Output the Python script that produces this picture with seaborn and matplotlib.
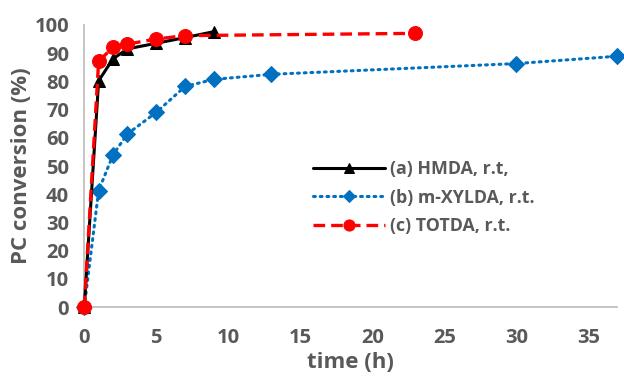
import matplotlib
matplotlib.use("Agg")
import matplotlib.pyplot as plt
import seaborn as sns
import pandas as pd

# Data
t_hmda = [0, 1, 2, 3, 5, 7, 9]
y_hmda = [0, 80.2, 88, 91.5, 93.5, 95.5, 97.6]
t_xylda = [0, 1, 2, 3, 5, 7, 9, 13, 30, 37]
y_xylda = [0, 41.3, 54, 61.4, 69, 78.2, 80.7, 82.5, 86.3, 88.9]
t_totda = [0, 1, 2, 3, 5, 7, 23]
y_totda = [0, 87.2, 92, 93.2, 95, 96.2, 97]
labels = ["(a) HMDA, r.t,", "(b) m-XYLDA, r.t.", "(c) TOTDA, r.t."]

sns.set_style("white")
plt.rcParams['font.family'] = ['Open Sans', 'DejaVu Sans']
grey = "#595959"
axcol = "#BFBFBF"

fig = plt.figure(figsize=(6.24, 3.83), dpi=100)
ax = fig.add_axes([0.135, 0.198, 0.854, 0.737])

df_a = pd.DataFrame({"t": t_hmda, "y": y_hmda})
df_b = pd.DataFrame({"t": t_xylda, "y": y_xylda})
df_c = pd.DataFrame({"t": t_totda, "y": y_totda})

sns.lineplot(data=df_a, x="t", y="y", ax=ax, color="black", lw=2.2, marker="^",
             markersize=9, markeredgecolor="black", label=labels[0], clip_on=False, zorder=3)
sns.lineplot(data=df_b, x="t", y="y", ax=ax, color="#0070C0", lw=2.2, marker="D",
             markersize=8, markeredgecolor="#0070C0", label=labels[1], clip_on=False, zorder=2)
l = ax.lines[-1]
l.set_linestyle((0, (0.6, 1.6)))
l.set_dash_capstyle("round")
sns.lineplot(data=df_c, x="t", y="y", ax=ax, color="#FF0000", lw=2.4, marker="o",
             markersize=10, markeredgecolor="#FF0000", label=labels[2], clip_on=False, zorder=4)
ax.lines[-1].set_linestyle((0, (3.5, 1.8)))

ax.set_xlim(0, 37)
ax.set_ylim(0, 100)
ax.set_xticks(range(0, 40, 5))
ax.set_yticks(range(0, 101, 10))

for s in ["top", "right"]:
    ax.spines[s].set_visible(False)
for s in ["left", "bottom"]:
    ax.spines[s].set_color(axcol)
    ax.spines[s].set_linewidth(1.3)
ax.tick_params(axis="both", which="both", colors=axcol, length=6, width=1.3,
               direction="out", labelcolor=grey, labelsize=14.5)
ax.tick_params(axis="x", pad=9)
ax.tick_params(axis="y", pad=5)
for lab in ax.get_xticklabels() + ax.get_yticklabels():
    lab.set_fontweight("bold")

ax.set_xlabel("time (h)", fontsize=16, fontweight="bold", color=grey, labelpad=3)
ax.set_ylabel("PC conversion (%)", fontsize=16, fontweight="bold", color=grey, labelpad=2)

leg = ax.legend(loc="upper left", bbox_to_anchor=(0.4, 0.578), frameon=False,
                handlelength=4.0, fontsize=12.8, labelspacing=0.6, handletextpad=0.3,
                markerscale=0.8)
for txt in leg.get_texts():
    txt.set_color(grey)
    txt.set_fontweight("bold")

fig.savefig("out.png", dpi=100)
